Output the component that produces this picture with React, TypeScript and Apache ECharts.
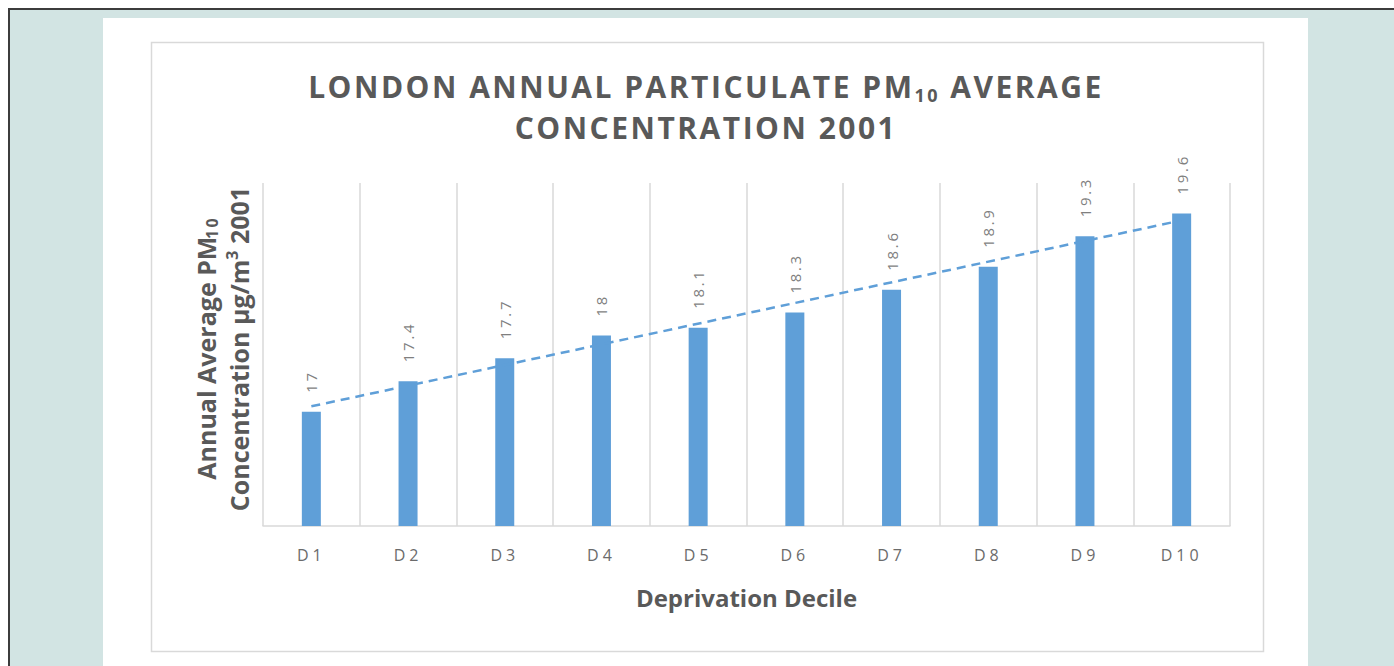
import React, { useEffect, useRef } from "react";
import * as echarts from "echarts";

const categories = ["D1", "D2", "D3", "D4", "D5", "D6", "D7", "D8", "D9", "D10"];
const pm10Values = [17, 17.4, 17.7, 18, 18.1, 18.3, 18.6, 18.9, 19.3, 19.6];
const trendCategories = ["D1", "D10"];
const trendValues = [17.07, 19.51];
const yMin = 15.5;
const yMax = 20;

const titleLine1a = "LONDON ANNUAL PARTICULATE PM";
const titleSub = "10";
const titleLine1b = "AVERAGE";
const titleLine2 = "CONCENTRATION 2001";

const TITLE_FONT = 30;
const TITLE_SUB_FONT = 18;
const TITLE_SP = 2.5;
const XLABEL_SP = 4;
const VALUE_SP = 2.7;

function measure(text: string, size: number, weight = "bold") {
  const t = new echarts.graphic.Text({
    style: { text, fontFamily: "Open Sans", fontWeight: weight as any, fontSize: size },
  });
  return t.getBoundingRect().width;
}

export default function App() {
  const ref = useRef<HTMLDivElement>(null);
  useEffect(() => {
    if (!ref.current) return;
    const el = ref.current;
    const chart = echarts.init(el, undefined, { renderer: "svg" });
    const barColor = "#5f9fd8";
    const titleColor = "#595959";

    const wA = measure(titleLine1a, TITLE_FONT) + TITLE_SP * titleLine1a.length;
    const wB = measure(titleSub, TITLE_SUB_FONT) + TITLE_SP * titleSub.length;
    const wSpace = measure(" ", TITLE_FONT) + TITLE_SP;
    const wC = measure(titleLine1b, TITLE_FONT) + TITLE_SP * titleLine1b.length;
    const cx = 706;
    const x0 = cx - (wA + wB + wSpace + wC) / 2;
    const w2 = measure(titleLine2, TITLE_FONT) + TITLE_SP * titleLine2.length;

    const titleStyle = { fontFamily: "Open Sans", fontWeight: "bold", fontSize: TITLE_FONT, fill: titleColor };

    chart.setOption({
      animation: false,
      backgroundColor: "transparent",
      graphic: [
        { type: "rect", silent: true, z: -10, shape: { x: 103, y: 18, width: 1205, height: 660 }, style: { fill: "#ffffff" } },
        { type: "rect", silent: true, z: -9, shape: { x: 151.5, y: 42.5, width: 1112, height: 609 }, style: { fill: "#ffffff", stroke: "#d9d9d9", lineWidth: 1.5 } },
        { type: "text", x: x0, y: 86, style: { ...titleStyle, text: titleLine1a, align: "left", verticalAlign: "middle" } },
        { type: "text", x: x0 + wA, y: 104, style: { ...titleStyle, fontSize: TITLE_SUB_FONT, text: titleSub, align: "left", verticalAlign: "bottom" } },
        { type: "text", x: x0 + wA + wB + wSpace, y: 86, style: { ...titleStyle, text: titleLine1b, align: "left", verticalAlign: "middle" } },
        { type: "text", x: cx - w2 / 2, y: 127, style: { ...titleStyle, text: titleLine2, align: "left", verticalAlign: "middle" } },
        {
          type: "text",
          x: 222,
          y: 349,
          rotation: Math.PI / 2,
          style: {
            text: "{a|Annual Average PM}{s|10}\n{a|Concentration µg/m}{p|3}{a| 2001}",
            align: "center",
            verticalAlign: "middle",
            rich: {
              a: { fontFamily: "Open Sans", fontWeight: "bold", fontSize: 25, lineHeight: 33, fill: "#595959" },
              s: { fontFamily: "Open Sans", fontWeight: "bold", fontSize: 16, lineHeight: 33, fill: "#595959", padding: [13, 0, 0, 0] },
              p: { fontFamily: "Open Sans", fontWeight: "bold", fontSize: 16, lineHeight: 33, fill: "#595959", padding: [0, 0, 13, 0] },
            },
          },
        },
      ],
      grid: { left: 263, right: 164, top: 183, bottom: 140, containLabel: false },
      xAxis: {
        type: "category",
        data: categories,
        boundaryGap: true,
        name: "Deprivation Decile",
        nameLocation: "middle",
        nameGap: 59,
        nameTextStyle: { fontFamily: "Open Sans", fontWeight: "bold", fontSize: 24, color: "#595959" },
        axisLine: { show: true, lineStyle: { color: "#d9d9d9", width: 1.5 } },
        axisTick: { show: false },
        axisLabel: { margin: 21, fontFamily: "Open Sans", fontSize: 16, color: "#6b6b6b" },
        splitLine: { show: true, lineStyle: { color: "#d9d9d9", width: 1.5 } },
      },
      yAxis: {
        type: "value",
        min: yMin,
        max: yMax,
        axisLine: { show: false },
        axisTick: { show: false },
        axisLabel: { show: false },
        splitLine: { show: false },
      },
      series: [
        {
          type: "bar",
          data: pm10Values,
          barWidth: 19,
          itemStyle: { color: barColor },
          label: {
            show: true,
            position: "top",
            rotate: 90,
            align: "left",
            verticalAlign: "middle",
            distance: 19,
            fontFamily: "Open Sans",
            fontSize: 15,
            color: "#7f7f7f",
          },
          z: 2,
        },
        {
          type: "line",
          data: trendCategories.map((c, i) => [c, trendValues[i]]),
          symbol: "none",
          lineStyle: { color: barColor, width: 2.5, type: [9, 6] },
          z: 3,
        },
      ],
    });

    const titleTexts = new Set([titleLine1a, titleSub, titleLine1b, titleLine2]);
    const xTexts = new Set(categories);
    const valueTexts = new Set(pm10Values.map((v) => String(v)));
    const applySpacing = () => {
      el.querySelectorAll("text").forEach((t) => {
        const s = (t.textContent || "").trim();
        if (titleTexts.has(s)) t.setAttribute("letter-spacing", String(TITLE_SP));
        else if (xTexts.has(s)) t.setAttribute("letter-spacing", String(XLABEL_SP));
        else if (valueTexts.has(s)) t.setAttribute("letter-spacing", String(VALUE_SP));
      });
    };
    applySpacing();
    chart.on("finished", applySpacing);
    const raf = requestAnimationFrame(applySpacing);
    const to = setTimeout(applySpacing, 50);
    return () => {
      cancelAnimationFrame(raf);
      clearTimeout(to);
      chart.dispose();
    };
  }, []);
  return (
    <>
      <div
        style={{
          position: "absolute",
          left: 8,
          top: 8,
          width: 1386,
          height: 658,
          boxSizing: "border-box",
          borderTop: "2px solid #3c3c3c",
          borderLeft: "2px solid #3c3c3c",
          background: "#d2e4e3",
        }}
      />
      <div ref={ref} style={{ position: "absolute", left: 0, top: 0, width: 1394, height: 666 }} />
    </>
  );
}
